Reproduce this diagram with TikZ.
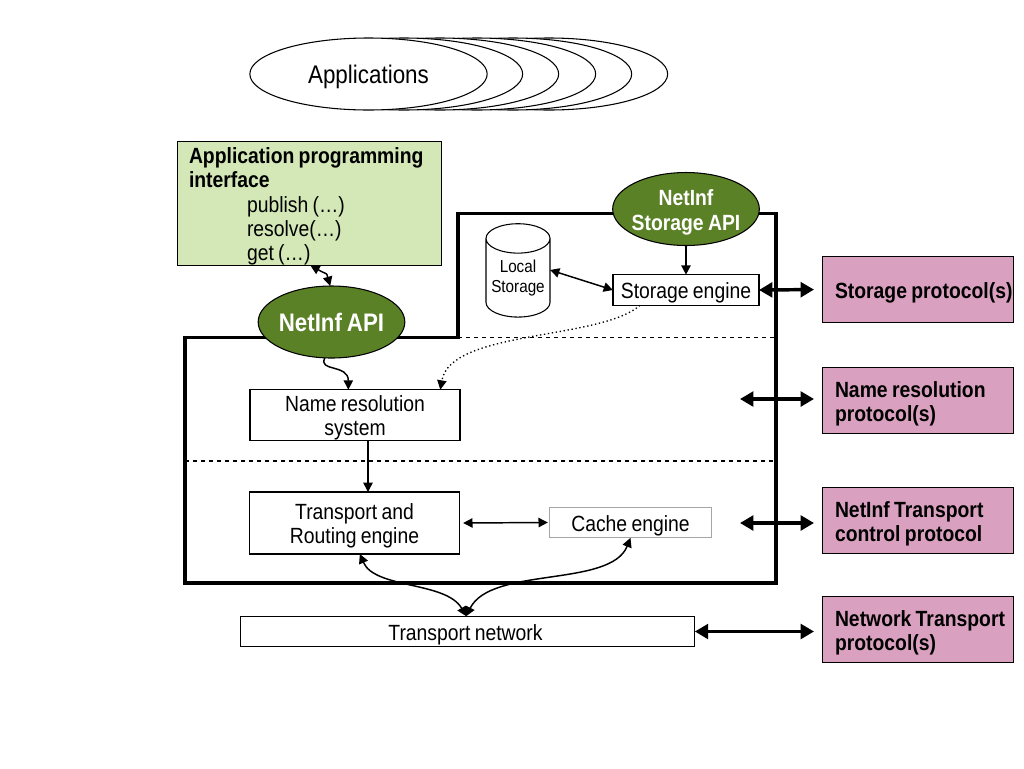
\documentclass[tikz,border=0pt]{standalone}
\usepackage{fontspec}
\setmainfont[FakeStretch=0.88,WordSpace=0.8]{Liberation Sans}
\usetikzlibrary{positioning}
\usetikzlibrary{arrows.meta}
\usetikzlibrary{calc}
\usetikzlibrary{shapes.geometric}

\definecolor{apigreen}{HTML}{D3E8B6}
\definecolor{darkgreen}{HTML}{5B8127}
\definecolor{protopink}{HTML}{D9A1BF}
\newcommand{\pad}{\hspace*{9.75pt}}
\newcommand{\st}{\rule{0pt}{16.5pt}}

\begin{document}
\begin{tikzpicture}[
    x=0.75pt, y=-0.75pt,
    >={Triangle[length=7pt,width=7pt]},
    txt/.style={font=\fontsize{16.5}{18}\selectfont},
    box/.style={draw, fill=white, txt, align=center, inner sep=0pt, outer sep=0pt, line width=0.8pt},
    proto/.style={draw, fill=protopink, inner sep=0pt, outer sep=0pt, text width=143.25pt, align=flush left, line width=0.7pt,
        font=\fontsize{16.5}{18}\selectfont\bfseries},
    api/.style={ellipse, draw, fill=darkgreen, text=white, inner ysep=0pt, inner xsep=-2.5pt, outer sep=0pt, align=center, line width=0.8pt,
        minimum width=110pt, minimum height=54pt},
    app/.style={ellipse, draw, fill=white, line width=0.8pt, inner sep=0pt,
        minimum width=178pt, minimum height=54pt},
    link/.style={<->, line width=1.1pt},
    flow/.style={->, line width=1.1pt},
    wide/.style={<->, line width=2.6pt, >={Triangle[length=10pt,width=11pt]}}
]
    \useasboundingbox (0,0) rectangle (1024,768);

    % Applications stack
    \foreach \x/\n in {549/a, 513/b, 477/c, 440/d, 404/e} {
        \node[app] (app\n) at (\x,74) {};
    }
    \node[app] (apps) at (368.5,74) {};
    \node[font=\fontsize{19.1}{20}\selectfont] (appstext) at (368.5,77) {Applications};

    % Core outline
    \draw[line width=2.3pt] (185,337.5) -- (458,337.5) -- (458,213.5) -- (776,213.5) -- (776,583) -- (185,583) -- cycle;
    \draw[dashed, line width=1pt] (458,337.5) -- (776,337.5);
    \draw[dashed, line width=1pt] (185,461) -- (776,461);

    % API box
    \node[draw, fill=apigreen, inner sep=0pt, outer sep=0pt, text width=198pt, minimum height=92.5pt, align=flush left,
        font=\fontsize{16.5}{18.3}\selectfont, line width=0.7pt] (prog) at (309,203.3)
        {\st\hspace*{9pt}\textbf{Application programming}\\
        \hspace*{9pt}\textbf{interface}\\
        \hspace*{52.5pt}publish (…)\\
        \hspace*{52.5pt}resolve(…)\\
        \hspace*{52.5pt}get (…)};

    % Ellipses
    \node[api, font=\fontsize{19}{20}\selectfont\bfseries] (netapi) at (331.5,322) {NetInf API};
    \node[api, font=\fontsize{16.5}{18.7}\selectfont\bfseries] (storapi) at (686,209) {\st NetInf\\Storage API};

    % Engines
    \node[box, minimum width=109.5pt, minimum height=23pt] (storage) at (686,290) {\st Storage engine};
    \node[box, minimum width=157.5pt, minimum height=38pt] (names) at (355,415) {\st Name resolution\\system};
    \node[box, minimum width=157pt, minimum height=46.5pt] (route) at (354.5,523) {\st Transport and\\Routing engine};
    \node[box, draw=black!35, minimum width=122pt, minimum height=23pt] (cache) at (630.5,522.5) {\st Cache engine};
    \node[box, minimum width=341pt, minimum height=23pt] (network) at (467.5,631.5) {\st\hspace*{-3pt}Transport network};
    \node[cylinder, draw, shape border rotate=90, aspect=0.55, inner sep=0pt, outer sep=0pt, line width=0.8pt,
        minimum width=48pt, minimum height=70pt, align=center, font=\fontsize{13}{15}\selectfont] (local) at (518,278)
        {Local\\Storage};

    % Protocol boxes
    \node[proto, minimum height=50pt] (p1) at (917.5,289.5) {\st\pad\mbox{Storage protocol(s)}};
    \node[proto, minimum height=50pt] (p2) at (917.5,400.5) {\st\pad Name resolution\\\pad protocol(s)};
    \node[proto, minimum height=50pt] (p3) at (917.5,520.5) {\st\pad NetInf Transport\\\pad control protocol};
    \node[proto, minimum height=50pt] (p4) at (917.5,629.5) {\st\pad Network Transport\\\pad protocol(s)};

    % Free ends of the wide arrows
    \coordinate (w2) at (740,399);
    \coordinate (w3) at (740,523);

    % Wide arrows
    \draw[wide, shorten >=6pt] (storage.east) -- (p1.west);
    \draw[wide, shorten >=6pt] (w2) -- (w2 -| p2.west);
    \draw[wide, shorten >=6pt] (w3) -- (w3 -| p3.west);
    \draw[wide, shorten >=6pt] (network.east) -- (network.east -| p4.west);

    % Inner links
    \draw[flow] (storapi) -- (storage);
    \draw[link] ([yshift=6pt]local.east) -- (storage.west);
    \draw[flow] (names.south -| 368,0) -- (route.north -| 368,0);
    \draw[link, shorten <=3pt, shorten >=1pt] (route.east) -- (cache.west);
    \draw[link] ([xshift=1pt]prog.south) .. controls +(18,10) and +(-4,-14) .. ([xshift=-1pt]netapi.north);
    \draw[flow] ([xshift=-5pt]netapi.south) .. controls +(-7,14) and +(0,-26) .. ([xshift=-5pt]names.north);
    \draw[->, dotted, line width=1pt] ([xshift=-34.5pt]storage.south) .. controls +(-40,35) and +(10,-60) .. ([xshift=64pt]names.north);
    \draw[link] ([xshift=4pt]route.south) .. controls +(15,35) and +(-20,-35) .. ([xshift=-1pt]network.north);
    \draw[link] (cache.south) .. controls +(-20,50) and +(25,-50) .. ([xshift=-1pt]network.north);
\end{tikzpicture}
\end{document}
